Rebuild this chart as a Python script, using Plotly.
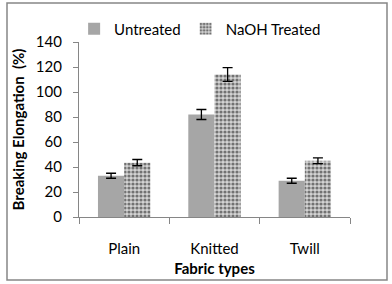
import plotly.graph_objects as go

categories = ["Plain", "Knitted", "Twill"]
untreated = [33, 82, 29]
untreated_err = [2, 4, 2]
treated = [43.5, 114, 45]
treated_err = [2.5, 5.5, 2.3]

L, R, T, B = 79, 42, 42, 67
W, H = 392, 284
pw, ph = W - L - R, H - T - B

fig = go.Figure()
fig.add_trace(go.Bar(
    x=categories, y=untreated, name="Untreated",
    marker=dict(color="#a6a6a6", line=dict(width=0)),
    error_y=dict(type="data", array=untreated_err, color="black", thickness=1.3, width=5),
))
fig.add_trace(go.Bar(
    x=categories, y=treated, name="NaOH Treated",
    marker=dict(color="#c4c4c4", line=dict(width=0),
                pattern=dict(shape=".", fgcolor="#727272", bgcolor="#d4d4d4",
                             size=4, solidity=0.5, fillmode="replace")),
    error_y=dict(type="data", array=treated_err, color="black", thickness=1.3, width=5),
))

font_family = "Lato, 'Open Sans', sans-serif"
FS = 15
fig.update_layout(
    width=W, height=H,
    margin=dict(l=L, r=R, t=T, b=B, pad=0, autoexpand=False),
    paper_bgcolor="white", plot_bgcolor="white",
    barmode="group", bargap=0.42, bargroupgap=0,
    font=dict(family=font_family, size=FS, color="black"),
    showlegend=True,
    legend=dict(orientation="h", x=-0.018, y=(H - B - 29) / ph, xanchor="left", yanchor="middle",
                font=dict(size=FS, color="black"), itemwidth=30, traceorder="normal",
                bgcolor="rgba(0,0,0,0)"),
    xaxis=dict(
        showline=True, linecolor="#868686", linewidth=1.3,
        ticks="outside", tickson="boundaries", ticklen=6, tickcolor="#868686",
        tickfont=dict(size=FS, color="black"),
        ticklabelstandoff=18,
        title=dict(text="<b>Fabric types</b>", font=dict(size=FS, color="black"), standoff=7),
        showgrid=False, automargin=False,
    ),
    yaxis=dict(
        range=[0, 140], dtick=20,
        showline=True, linecolor="#868686", linewidth=1.3,
        ticks="outside", ticklen=5, tickcolor="#868686",
        tickfont=dict(size=FS, color="black"),
        ticklabelstandoff=8,
        title=dict(text="<b>Breaking Elongation  (%)</b>", font=dict(size=FS, color="black"), standoff=7),
        showgrid=False, zeroline=False, automargin=False,
    ),
    shapes=[dict(
        type="rect", xref="paper", yref="paper",
        x0=(7 - L) / pw, x1=(387 - L) / pw,
        y0=(H - B - 280) / ph, y1=(H - B - 3) / ph,
        line=dict(color="#868686", width=1.5), fillcolor="rgba(0,0,0,0)", layer="above",
    )],
)

fig.write_html("out.html", config={"displayModeBar": False},
               post_script="document.body.style.margin='0';")
